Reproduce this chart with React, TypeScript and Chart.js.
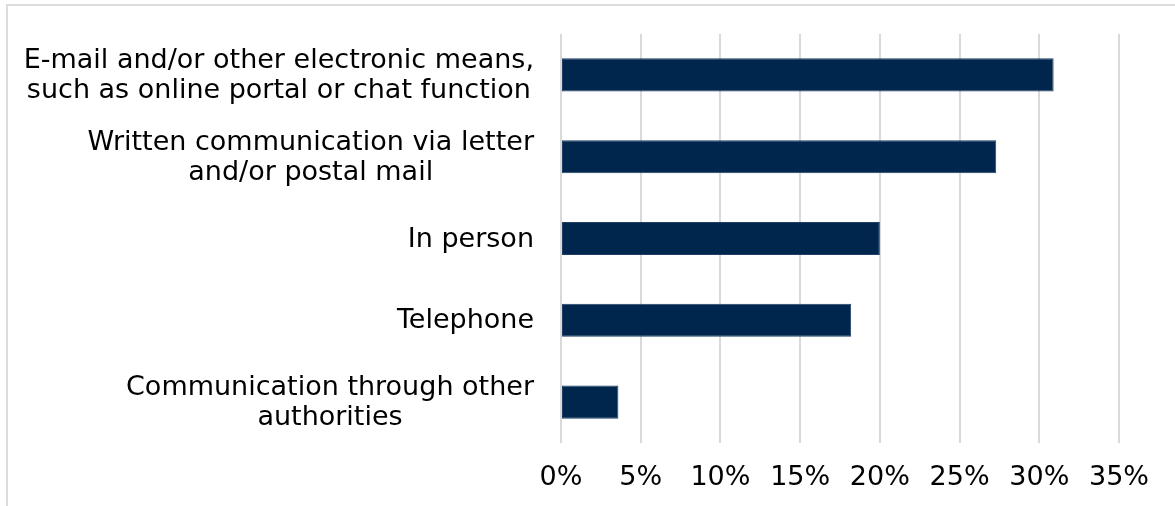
import React, { useEffect, useRef } from "react";
import { Chart, registerables } from "chart.js";

Chart.register(...registerables);

const categories: string[][] = [
  ["E-mail and/or other electronic means,", "such as online portal or chat function"],
  ["Written communication via letter", "and/or postal mail"],
  ["In person"],
  ["Telephone"],
  ["Communication through other", "authorities"],
];
const shares: number[] = [30.9, 27.3, 20.0, 18.2, 3.6];
const xTicks = { min: 0, max: 35, step: 5 };

const FONT = "'DejaVu Sans', Verdana, sans-serif";
const FONT_SIZE = 27;

const labelPlugin = {
  id: "blockLabels",
  afterDraw(chart: any) {
    const ctx = chart.ctx;
    const yScale = chart.scales.y;
    const right = chart.chartArea.left - 27;
    const lh = 30;
    ctx.save();
    ctx.font = `${FONT_SIZE}px ${FONT}`;
    ctx.fillStyle = "#000000";
    ctx.textAlign = "center";
    ctx.textBaseline = "middle";
    categories.forEach((lines, i) => {
      const y = yScale.getPixelForValue(i);
      const w = Math.max(...lines.map((l) => ctx.measureText(l).width));
      const cx = right - w / 2;
      lines.forEach((l, j) => {
        ctx.fillText(l, cx, y + (j - (lines.length - 1) / 2) * lh + 1);
      });
    });
    ctx.restore();
  },
};

export default function App() {
  const ref = useRef<HTMLCanvasElement | null>(null);
  useEffect(() => {
    document.body.style.overflow = "hidden";
    if (!ref.current) return;
    const chart = new Chart(ref.current, {
      type: "bar",
      data: {
        labels: categories.map((c) => c.join(" ")),
        datasets: [
          {
            data: shares,
            backgroundColor: "#00264D",
            borderColor: "#1F3F66",
            borderWidth: 1,
            borderSkipped: false,
            categoryPercentage: 1,
            barPercentage: 0.405,
          },
        ],
      },
      options: {
        indexAxis: "y",
        animation: false,
        responsive: true,
        maintainAspectRatio: false,
        layout: { padding: { top: 34, left: 561, right: 56, bottom: 0 } },
        plugins: { legend: { display: false }, tooltip: { enabled: false } },
        scales: {
          x: {
            min: xTicks.min,
            max: xTicks.max,
            afterFit: (s: any) => {
              s.height = 63;
            },
            ticks: {
              stepSize: xTicks.step,
              callback: (v: any) => `${v}%`,
              color: "#000000",
              font: { family: FONT, size: FONT_SIZE },
              padding: 19,
              maxRotation: 0,
            },
            grid: { color: "#D9D9D9", lineWidth: 2, drawTicks: false },
            border: { display: false },
          },
          y: {
            afterFit: (s: any) => {
              s.width = 0;
            },
            ticks: { display: false },
            grid: { display: false },
            border: { display: false },
          },
        },
      },
      plugins: [labelPlugin],
    });
    return () => chart.destroy();
  }, []);

  return (
    <div style={{ position: "fixed", left: 0, top: 0, width: 1175, height: 506, background: "#fff" }}>
      <div
        style={{
          position: "absolute",
          left: 6,
          top: 4,
          width: 1175,
          height: 510,
          borderTop: "2px solid #DCDCDC",
          borderLeft: "2px solid #DCDCDC",
        }}
      />
      <canvas ref={ref} style={{ position: "absolute", left: 0, top: 0 }} />
    </div>
  );
}
